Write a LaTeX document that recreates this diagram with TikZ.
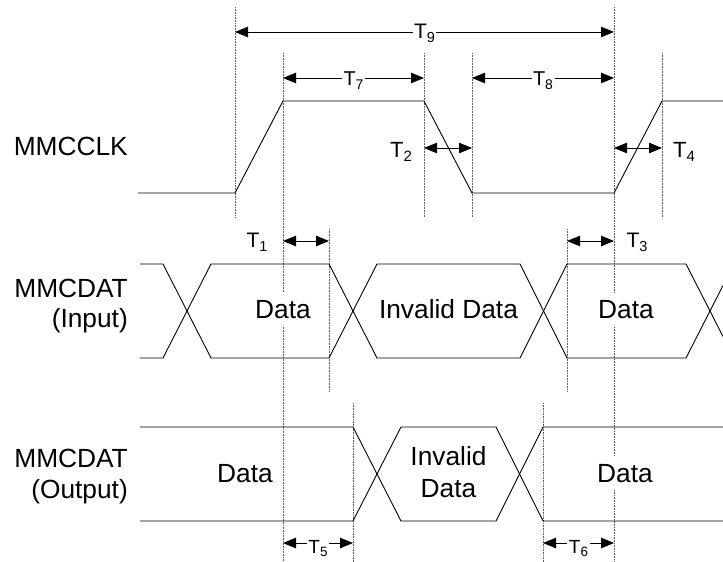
\documentclass[tikz,border=0pt]{standalone}
\usepackage{fontspec}
\setmainfont{Liberation Sans}
\usetikzlibrary{arrows.meta}
\newcommand\Tlab[4]{{\fontsize{#1}{#1}\selectfont T\raisebox{-#3}{\fontsize{#2}{#2}\selectfont #4}}}
\begin{document}
\begin{tikzpicture}[x=1pt,y=-1pt,
  sig/.style={line width=0.9pt, line join=miter},
  guide/.style={draw=black!65, line width=0.8pt, dash pattern=on 0.8pt off 0.8pt},
  dimarrow/.style={line width=0.9pt, {Triangle[length=13pt,width=10.5pt]}-{Triangle[length=13pt,width=10.5pt]}},
  sidelbl/.style={font=\fontsize{26.3pt}{30pt}\selectfont, inner sep=0pt, anchor=base east},
  lbl/.style={font=\fontsize{26.3pt}{30pt}\selectfont, fill=white, inner xsep=2pt, inner ysep=2pt, text height=23pt, text depth=6pt, anchor=base},
  tl/.style={inner xsep=1.5pt, inner ysep=1pt, anchor=base},
  tf/.style={tl, fill=white}
]
\useasboundingbox (0,0) rectangle (723,562);

% guide (dotted) lines
\foreach \n/\x/\ya/\yb in {ga/235/7/217, gb/283/53/562, gc/329/229/392, gd/353/403/562,
                           ge/424/53/217, gf/472/53/217, gg/543/403/562, gh/567/229/392,
                           gi/614/7/562, gj/662/53/217}{
  \coordinate (\n1) at (\x,\ya);
  \coordinate (\n2) at (\x,\yb);
  \draw[guide] (\n1) -- (\n2);
}

% MMCCLK
\draw[sig] (138,193) -- (235,193) -- (283,101) -- (424,101) -- (472,193) -- (614,193) -- (662,101) -- (723,101);

% MMCDAT input
\draw[sig] (140,264) -- (163,264) -- (211,358) -- (329,358) -- (377,264) -- (520,264) -- (567,358) -- (686,358) -- (723,285.5);
\draw[sig] (140,358) -- (163,358) -- (211,264) -- (329,264) -- (377,358) -- (520,358) -- (567,264) -- (686,264) -- (723,336.5);

% MMCDAT output
\draw[sig] (140,427) -- (353,427) -- (401,521) -- (496,521) -- (543,427) -- (723,427);
\draw[sig] (140,521) -- (353,521) -- (401,427) -- (496,427) -- (543,521) -- (723,521);

% dimension arrows
\coordinate (a9l) at (235,32);  \coordinate (a9r) at (614,32);
\coordinate (a7l) at (283,78);  \coordinate (a7r) at (424,78);
\coordinate (a8l) at (472,78);  \coordinate (a8r) at (614,78);
\coordinate (a2l) at (424,148); \coordinate (a2r) at (472,148);
\coordinate (a4l) at (614,148); \coordinate (a4r) at (662,148);
\coordinate (a1l) at (283,241); \coordinate (a1r) at (329,241);
\coordinate (a3l) at (567,241); \coordinate (a3r) at (614,241);
\coordinate (a5l) at (283,543); \coordinate (a5r) at (353,543);
\coordinate (a6l) at (543,543); \coordinate (a6r) at (614,543);
\foreach \a in {9,7,8,2,4,1,3,5,6}{\draw[dimarrow] (a\a l) -- (a\a r);}

\node[tf] (t9) at (424.5,38) {\Tlab{21pt}{14.5pt}{4pt}{9}};
\node[tf] (t7) at (353.5,85) {\Tlab{20pt}{14pt}{4pt}{7}};
\node[tf] (t8) at (543,85) {\Tlab{20pt}{14pt}{4pt}{8}};
\node[tl] (t2) at (401,157) {\Tlab{22pt}{15pt}{4.5pt}{2}};
\node[tl] (t4) at (684,157) {\Tlab{22pt}{15pt}{4.5pt}{4}};
\node[tl] (t1) at (257,247) {\Tlab{21pt}{14.5pt}{4.5pt}{1}};
\node[tl] (t3) at (637,247) {\Tlab{21pt}{14.5pt}{4.5pt}{3}};
\node[tf] (t5) at (318,553) {\Tlab{19pt}{13.5pt}{3.5pt}{5}};
\node[tf] (t6) at (578.5,553) {\Tlab{19pt}{13.5pt}{3.5pt}{6}};

% signal names
\node[sidelbl] (clk) at (128,155) {MMCCLK};
\node[sidelbl] (dinA) at (128,297) {MMCDAT};
\node[sidelbl] (dinB) at (128,327) {(Input)};
\node[sidelbl] (doutA) at (128,467) {MMCDAT};
\node[sidelbl] (doutB) at (128,498) {(Output)};

% bus contents
\node[lbl] (i1) at (283,318) {Data};
\node[lbl] (i2) at (448.5,318) {Invalid Data};
\node[lbl] (i3) at (626,318) {Data};
\node[lbl] (o1) at (245,482) {Data};
\node[lbl] (o2a) at (448.5,465) {Invalid};
\node[lbl] (o2b) at (448.5,497) {Data};
\node[lbl] (o3) at (625,482) {Data};
\end{tikzpicture}
\end{document}
